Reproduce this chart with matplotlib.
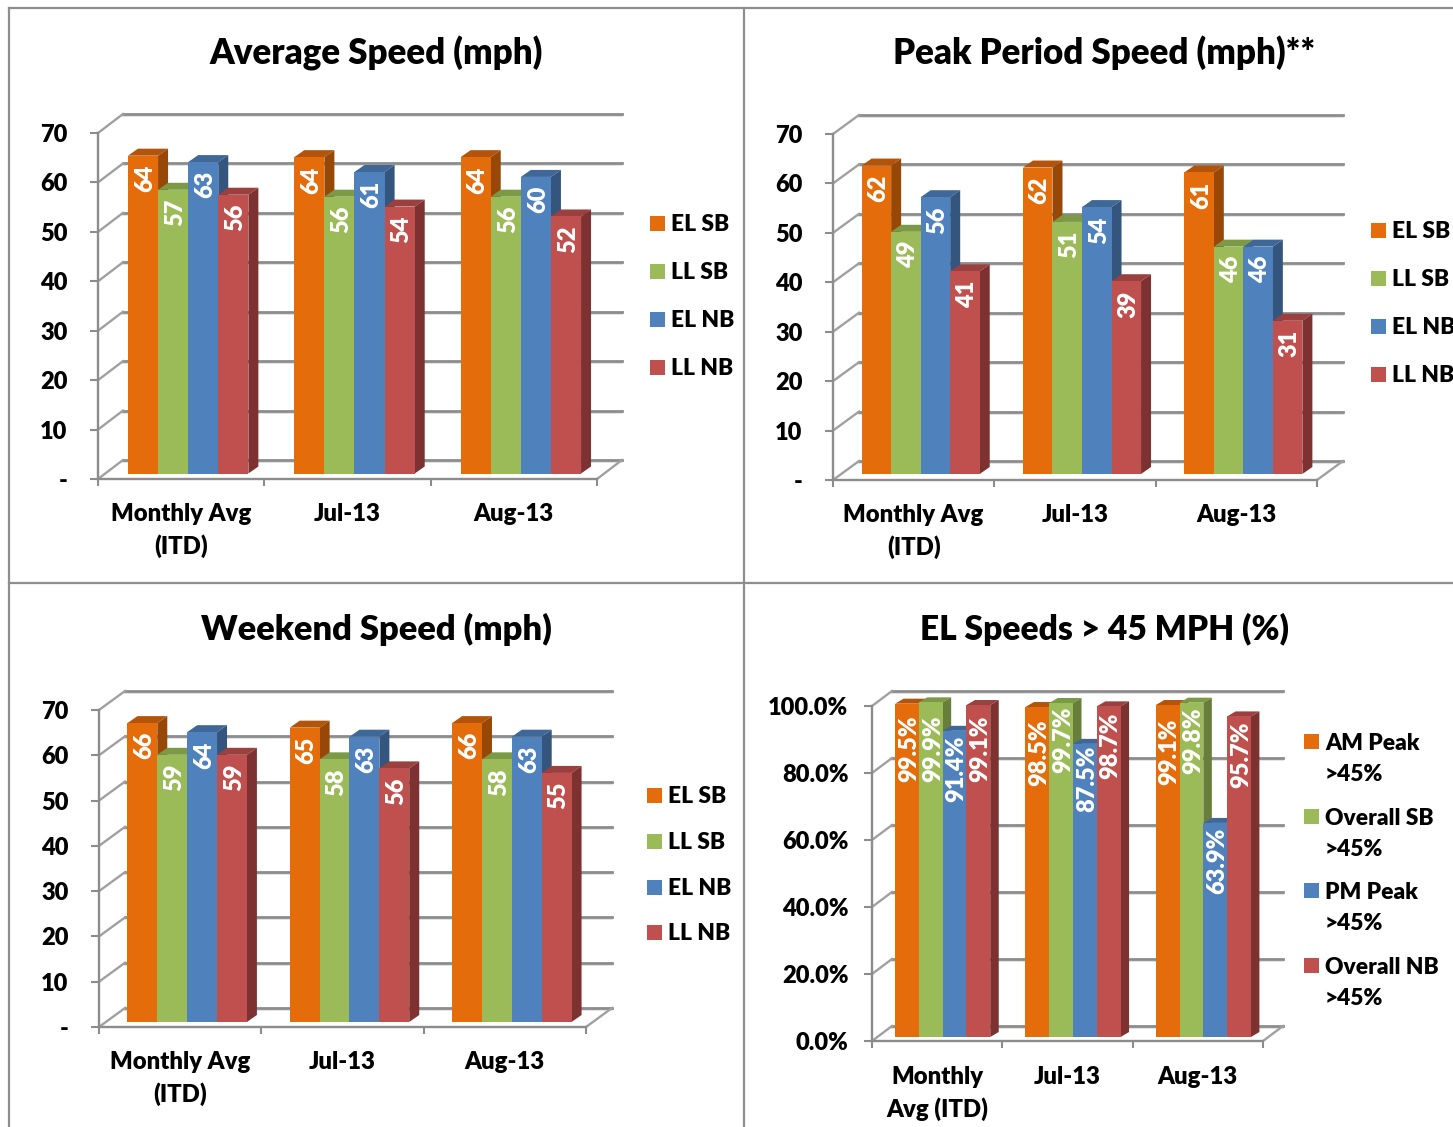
from matplotlib.lines import Line2D
from matplotlib.patches import Polygon, Rectangle
from matplotlib.transforms import IdentityTransform
import matplotlib.pyplot as plt

W, H = 1453, 1127

months = ['Monthly Avg\n(ITD)', 'Jul-13', 'Aug-13']
months_narrow = ['Monthly\nAvg (ITD)', 'Jul-13', 'Aug-13']
speed_series = ['EL SB', 'LL SB', 'EL NB', 'LL NB']
pct_series = ['AM Peak\n>45%', 'Overall SB\n>45%', 'PM Peak\n>45%', 'Overall NB\n>45%']

avg_el_sb = [64.3, 64, 64]
avg_ll_sb = [57.4, 56, 56]
avg_el_nb = [63, 61, 60]
avg_ll_nb = [56.4, 54, 52]

peak_el_sb = [62.4, 62, 61]
peak_ll_sb = [49, 51, 46]
peak_el_nb = [56, 54, 46]
peak_ll_nb = [41, 39, 31]

wknd_el_sb = [66, 65, 66]
wknd_ll_sb = [59, 58, 58]
wknd_el_nb = [64, 63, 63]
wknd_ll_nb = [59, 56, 55]

pct_am_peak = [99.5, 98.5, 99.1]
pct_overall_sb = [99.9, 99.7, 99.8]
pct_pm_peak = [91.4, 87.5, 63.9]
pct_overall_nb = [99.1, 98.7, 95.7]

speed_ticks = [0, 10, 20, 30, 40, 50, 60, 70]
speed_ticklabels = ['-', '10', '20', '30', '40', '50', '60', '70']
pct_ticks = [0, 20, 40, 60, 80, 100]
pct_ticklabels = ['0.0%', '20.0%', '40.0%', '60.0%', '80.0%', '100.0%']

# front, top, side
colors = [
    ('#E46C0A', '#B3540A', '#974806'),
    ('#9BBB59', '#7C9A46', '#677F3A'),
    ('#4F81BD', '#3F6797', '#34557E'),
    ('#C0504D', '#9A403E', '#7D3131'),
]

GRID = '#8C8C8C'
plt.rcParams['font.family'] = 'Lato'
plt.rcParams['font.weight'] = 'heavy'


def px(x, y):
    # picture pixels, origin top left
    return x, H - y


def chart(fig, title, title_x, title_y, left, right, y0, ytop, values, labels,
          cats, ticks, ticklabels, fmt, wall, shift, depth, bar_w, drop,
          ypad, xpad, leg_x, leg_ys, leg_size=16.4, label_size=17, title_size=25.1):
    ax = fig.add_axes([left / W, 1 - y0 / H, (right - left) / W, (y0 - ytop) / H])
    ax.patch.set_visible(False)
    ax.set_xlim(0, len(cats))
    ax.set_ylim(ticks[0], ticks[-1])
    for s in ('top', 'right'):
        ax.spines[s].set_visible(False)
    for s in ('left', 'bottom'):
        ax.spines[s].set_color(GRID)
        ax.spines[s].set_linewidth(1.7)
    ax.set_yticks(ticks, ticklabels, fontsize=17)
    ax.set_xticks(range(len(cats) + 1), [''] * (len(cats) + 1))
    ax.set_xticks([i + 0.5 for i in range(len(cats))], cats, minor=True,
                  fontsize=17.2, linespacing=1.5)
    ax.tick_params(axis='y', length=5.5, width=1.5, color=GRID, pad=ypad)
    ax.tick_params(axis='x', which='major', length=5, width=1.5, color=GRID)
    ax.tick_params(axis='x', which='minor', length=0, pad=xpad)

    ident = IdentityTransform()
    to_px = ax.transData.transform
    n_cat = len(cats)

    # back wall and floor
    for t in ticks:
        x_a, y_a = to_px((0, t))
        x_b, y_b = to_px((n_cat, t))
        ax.add_line(Line2D([x_a + wall[0], x_b + wall[0]], [y_a + wall[1] - 2] * 2,
                           color='#DDDDDD', lw=1.2, transform=ident, clip_on=False, zorder=1))
        ax.add_line(Line2D([x_a + wall[0], x_b + wall[0]], [y_a + wall[1]] * 2,
                           color=GRID, lw=2.0, transform=ident, clip_on=False, zorder=1.1))
        ax.add_line(Line2D([x_a, x_a + wall[0]], [y_a, y_a + wall[1]],
                           color='#A0A0A0', lw=1.7, transform=ident, clip_on=False, zorder=1.1))
    x_a, y_a = to_px((n_cat, ticks[0]))
    ax.add_line(Line2D([x_a, x_a + wall[0]], [y_a, y_a + wall[1]],
                       color='#A0A0A0', lw=1.7, transform=ident, clip_on=False, zorder=1.1))

    # bars, left to right so that each front hides the side before it
    z = 3
    n_ser = len(values)
    for c in range(n_cat):
        for s in range(n_ser):
            v = values[s][c]
            x_c = c + 0.5 + (s - n_ser / 2) * bar_w
            xl, yb = to_px((x_c, ticks[0]))
            xr, yt = to_px((x_c + bar_w, v))
            xl, xr = xl + shift[0], xr + shift[0]
            yb, yt = yb + shift[1], yt + shift[1]
            front, top, side = colors[s]
            ax.add_patch(Polygon([(xl, yt), (xr, yt), (xr + depth[0], yt + depth[1]),
                                  (xl + depth[0], yt + depth[1])], fc=top, ec='none',
                                 transform=ident, clip_on=False, zorder=z))
            ax.add_patch(Polygon([(xr, yb), (xr + depth[0], yb + depth[1]),
                                  (xr + depth[0], yt + depth[1]), (xr, yt)], fc=side, ec='none',
                                 transform=ident, clip_on=False, zorder=z))
            ax.add_patch(Polygon([(xl, yb), (xr, yb), (xr, yt), (xl, yt)], fc=front, ec='none',
                                 transform=ident, clip_on=False, zorder=z + 0.1))
            d = drop[s][c] if isinstance(drop, list) else drop
            ax.text((xl + xr) / 2 + 2, yt - d, fmt.format(v), color='white', rotation=90,
                    ha='center', va='top', fontsize=label_size, transform=ident, zorder=50)
            z += 0.2

    fig.text(title_x / W, 1 - title_y / H, title, fontsize=title_size, ha='center', va='center')

    # legend
    for lab, ly, col in zip(labels, leg_ys, colors):
        ax.add_patch(Rectangle(px(leg_x, ly + 7.5), 15, 15, fc=col[0], ec='none',
                               transform=ident, clip_on=False))
        # multi-line text sits on its last line
        base = ly + 8 + 32 * lab.count('\n')
        fig.text((leg_x + 21) / W, 1 - base / H, lab, fontsize=leg_size, ha='left',
                 va='baseline', linespacing=1.58)
    return ax


fig = plt.figure(figsize=(W / 100, H / 100), dpi=100, facecolor='white')

# panel frame
for xs, ys in [((9, 1453), (8, 8)), ((9, 1453), (583, 583)), ((9, 9), (8, 1127)), ((744, 744), (8, 1127))]:
    fig.add_artist(Line2D([x / W for x in xs], [1 - y / H for y in ys], color='#8E8E8E', lw=1.6))

chart(fig, 'Average Speed (mph)', 376, 53, 98, 597, 479, 133,
      [avg_el_sb, avg_ll_sb, avg_el_nb, avg_ll_nb], speed_series, months,
      speed_ticks, speed_ticklabels, '{:.0f}', (25, 19), (7, 5.5), (10, 7), 0.181, 9,
      16.5, 17, 650, [223, 271, 319, 367])

chart(fig, 'Peak Period Speed (mph)**', 1104, 53, 833, 1317, 480, 134,
      [peak_el_sb, peak_ll_sb, peak_el_nb, peak_ll_nb], speed_series, months,
      speed_ticks, speed_ticklabels, '{:.0f}', (26, 19), (7, 6), (10, 7), 0.183, 9,
      16.5, 17, 1371, [230, 278, 326, 374])

chart(fig, 'Weekend Speed (mph)', 376, 629, 99, 586, 1027, 710,
      [wknd_el_sb, wknd_ll_sb, wknd_el_nb, wknd_ll_nb], speed_series, months,
      speed_ticks, speed_ticklabels, '{:.0f}', (26, 19), (7, 5), (10, 7), 0.184, 9,
      16.5, 17, 647, [795, 841, 887, 932], title_size=24.8)

# how far each % label sits below the top of its bar
pct_drop = [[12, 12, 14], [13, 4, 5], [5, 2, 5], [11, 6, 5]]

chart(fig, 'EL Speeds > 45 MPH (%)', 1104, 629, 872, 1263, 1041, 706,
      [pct_am_peak, pct_overall_sb, pct_pm_peak, pct_overall_nb], pct_series, months_narrow,
      pct_ticks, pct_ticklabels, '{:.1f}%', (20, 15), (5.5, 4), (8.5, 5), 0.1825, pct_drop,
      11.5, 18, 1304, [741, 816, 890, 965], title_size=24.1)

fig.savefig('out.png', dpi=100)
